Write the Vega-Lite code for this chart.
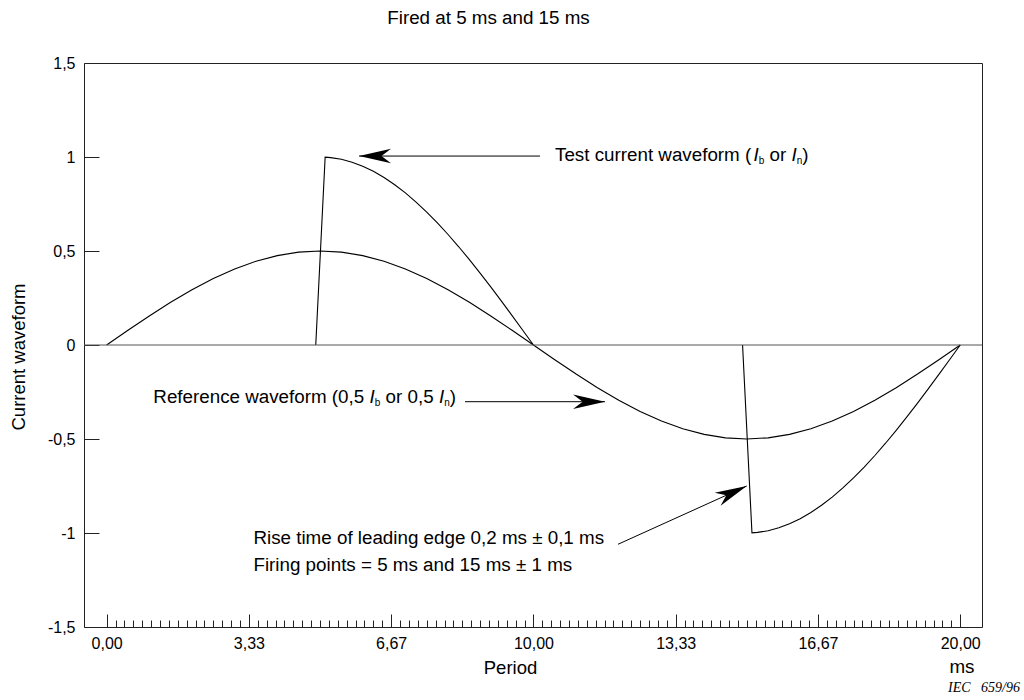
{
  "$schema": "https://vega.github.io/schema/vega-lite/v6.json",
  "width": 898,
  "height": 564,
  "autosize": {"type": "none"},
  "padding": {"left": 84, "top": 63, "right": 42, "bottom": 73},
  "background": "white",
  "title": {
    "text": "Fired at 5 ms and 15 ms",
    "anchor": "middle",
    "frame": "group",
    "dx": -44.5,
    "offset": 12,
    "baseline": "alphabetic",
    "font": "Liberation Sans",
    "fontSize": 18.8,
    "fontWeight": "normal",
    "color": "black"
  },
  "config": {
    "view": {"stroke": "#222", "strokeWidth": 1},
    "font": "Liberation Sans"
  },
  "resolve": {"axis": {"x": "independent"}},
  "datasets": {
    "reference": [
      {"t": 0, "v": 0}, {"t": 0.5, "v": 0.0782}, {"t": 1, "v": 0.1545}, {"t": 1.5, "v": 0.227}, {"t": 2, "v": 0.2939},
      {"t": 2.5, "v": 0.3536}, {"t": 3, "v": 0.4045}, {"t": 3.5, "v": 0.4455}, {"t": 4, "v": 0.4755}, {"t": 4.5, "v": 0.4938},
      {"t": 5, "v": 0.5}, {"t": 5.5, "v": 0.4938}, {"t": 6, "v": 0.4755}, {"t": 6.5, "v": 0.4455}, {"t": 7, "v": 0.4045},
      {"t": 7.5, "v": 0.3536}, {"t": 8, "v": 0.2939}, {"t": 8.5, "v": 0.227}, {"t": 9, "v": 0.1545}, {"t": 9.5, "v": 0.0782},
      {"t": 10, "v": 0}, {"t": 10.5, "v": -0.0782}, {"t": 11, "v": -0.1545}, {"t": 11.5, "v": -0.227}, {"t": 12, "v": -0.2939},
      {"t": 12.5, "v": -0.3536}, {"t": 13, "v": -0.4045}, {"t": 13.5, "v": -0.4455}, {"t": 14, "v": -0.4755}, {"t": 14.5, "v": -0.4938},
      {"t": 15, "v": -0.5}, {"t": 15.5, "v": -0.4938}, {"t": 16, "v": -0.4755}, {"t": 16.5, "v": -0.4455}, {"t": 17, "v": -0.4045},
      {"t": 17.5, "v": -0.3536}, {"t": 18, "v": -0.2939}, {"t": 18.5, "v": -0.227}, {"t": 19, "v": -0.1545}, {"t": 19.5, "v": -0.0782},
      {"t": 20, "v": 0}
    ],
    "test": [
      {"pulse": "positive", "t": 4.9, "v": 0}, {"pulse": "positive", "t": 5.12, "v": 0.999}, {"pulse": "positive", "t": 5.25, "v": 0.9969},
      {"pulse": "positive", "t": 5.5, "v": 0.9877}, {"pulse": "positive", "t": 5.75, "v": 0.9724}, {"pulse": "positive", "t": 6, "v": 0.9511},
      {"pulse": "positive", "t": 6.25, "v": 0.9239}, {"pulse": "positive", "t": 6.5, "v": 0.891}, {"pulse": "positive", "t": 6.75, "v": 0.8526},
      {"pulse": "positive", "t": 7, "v": 0.809}, {"pulse": "positive", "t": 7.25, "v": 0.7604}, {"pulse": "positive", "t": 7.5, "v": 0.7071},
      {"pulse": "positive", "t": 7.75, "v": 0.6495}, {"pulse": "positive", "t": 8, "v": 0.5878}, {"pulse": "positive", "t": 8.25, "v": 0.5225},
      {"pulse": "positive", "t": 8.5, "v": 0.454}, {"pulse": "positive", "t": 8.75, "v": 0.3827}, {"pulse": "positive", "t": 9, "v": 0.309},
      {"pulse": "positive", "t": 9.25, "v": 0.2335}, {"pulse": "positive", "t": 9.5, "v": 0.1564}, {"pulse": "positive", "t": 9.75, "v": 0.0785},
      {"pulse": "positive", "t": 10, "v": 0},
      {"pulse": "negative", "t": 14.9, "v": 0}, {"pulse": "negative", "t": 15.12, "v": -0.999}, {"pulse": "negative", "t": 15.25, "v": -0.9969},
      {"pulse": "negative", "t": 15.5, "v": -0.9877}, {"pulse": "negative", "t": 15.75, "v": -0.9724}, {"pulse": "negative", "t": 16, "v": -0.9511},
      {"pulse": "negative", "t": 16.25, "v": -0.9239}, {"pulse": "negative", "t": 16.5, "v": -0.891}, {"pulse": "negative", "t": 16.75, "v": -0.8526},
      {"pulse": "negative", "t": 17, "v": -0.809}, {"pulse": "negative", "t": 17.25, "v": -0.7604}, {"pulse": "negative", "t": 17.5, "v": -0.7071},
      {"pulse": "negative", "t": 17.75, "v": -0.6495}, {"pulse": "negative", "t": 18, "v": -0.5878}, {"pulse": "negative", "t": 18.25, "v": -0.5225},
      {"pulse": "negative", "t": 18.5, "v": -0.454}, {"pulse": "negative", "t": 18.75, "v": -0.3827}, {"pulse": "negative", "t": 19, "v": -0.309},
      {"pulse": "negative", "t": 19.25, "v": -0.2335}, {"pulse": "negative", "t": 19.5, "v": -0.1564}, {"pulse": "negative", "t": 19.75, "v": -0.0785},
      {"pulse": "negative", "t": 20, "v": 0}
    ],
    "arrows": [
      {"id": "test", "x": 10.155, "y": 1.005, "x2": 5.914, "y2": 1.005},
      {"id": "reference", "x": 8.397, "y": -0.3016, "x2": 11.678, "y2": -0.3016},
      {"id": "rise", "x": 11.982, "y": -1.06, "x2": 14.998, "y2": -0.75}
    ],
    "notes": [
      {"x": 10.506, "y": 0.979, "text": "Test current waveform ("},
      {"x": 15.532, "y": 0.979, "text": "or"},
      {"x": 16.3, "y": 0.979, "text": ")"},
      {"x": 1.094, "y": -0.3085, "text": "Reference waveform (0,5"},
      {"x": 6.537, "y": -0.3085, "text": "or 0,5"},
      {"x": 8.039, "y": -0.3085, "text": ")"},
      {"x": 3.44, "y": -1.0585, "text": "Rise time of leading edge 0,2 ms ± 0,1 ms"},
      {"x": 3.44, "y": -1.202, "text": "Firing points = 5 ms and 15 ms ± 1 ms"},
      {"x": 19.747, "y": -1.745, "text": "ms"}
    ],
    "italics": [
      {"x": 15.157, "y": 0.979, "text": "I"},
      {"x": 16.045, "y": 0.979, "text": "I"},
      {"x": 6.162, "y": -0.3085, "text": "I"},
      {"x": 7.786, "y": -0.3085, "text": "I"}
    ],
    "subscripts": [
      {"x": 15.279, "y": 0.965, "text": "b"},
      {"x": 16.169, "y": 0.965, "text": "n"},
      {"x": 6.284, "y": -0.322, "text": "b"},
      {"x": 7.908, "y": -0.322, "text": "n"}
    ]
  },
  "layer": [
    {
      "data": {"name": "reference"},
      "mark": {"type": "line", "color": "black", "strokeWidth": 1.1},
      "encoding": {
        "x": {
          "field": "t",
          "type": "quantitative",
          "scale": {"domain": [-0.53, 20.51], "nice": false, "zero": false},
          "axis": {
            "orient": "bottom",
            "title": "Period",
            "values": [0, 3.3333, 6.6667, 10, 13.3333, 16.6667, 20],
            "labelExpr": "replace(format(datum.value, '.2f'), '.', ',')",
            "labelOverlap": false,
            "labelFlush": false,
            "labelBound": false,
            "domain": false,
            "grid": false,
            "tickSize": -13,
            "tickColor": "#222",
            "tickWidth": 1,
            "labelFont": "Liberation Sans",
            "labelFontSize": 16,
            "labelColor": "black",
            "labelBaseline": "alphabetic",
            "labelPadding": 34,
            "titleFont": "Liberation Sans",
            "titleFontSize": 18.5,
            "titleFontWeight": "normal",
            "titleColor": "black",
            "titleX": 426,
            "titleY": 46,
            "titleAlign": "center",
            "titleBaseline": "alphabetic"
          }
        },
        "y": {
          "field": "v",
          "type": "quantitative",
          "scale": {"domain": [-1.5, 1.5], "nice": false, "zero": false},
          "axis": {
            "title": "Current waveform",
            "values": [-1.5, -1, -0.5, 0, 0.5, 1, 1.5],
            "labelExpr": "replace(toString(datum.value), '.', ',')",
            "labelOverlap": false,
            "labelFlush": false,
            "labelBound": false,
            "domain": false,
            "grid": false,
            "tickSize": -15,
            "tickColor": "#222",
            "tickWidth": 1,
            "labelFont": "Liberation Sans",
            "labelFontSize": 16,
            "labelColor": "black",
            "labelPadding": 24,
            "titleFont": "Liberation Sans",
            "titleFontSize": 18.5,
            "titleFontWeight": "normal",
            "titleColor": "black",
            "titleAngle": -90,
            "titleX": -66,
            "titleY": 293.5,
            "titleAlign": "center",
            "titleBaseline": "middle"
          }
        }
      }
    },
    {
      "data": {"name": "test"},
      "mark": {"type": "line", "color": "black", "strokeWidth": 1.1},
      "encoding": {
        "x": {
          "field": "t",
          "type": "quantitative",
          "axis": {
            "orient": "bottom",
            "title": null,
            "labels": false,
            "domain": false,
            "grid": false,
            "tickSize": -7,
            "tickColor": "#222",
            "tickWidth": 1,
            "values": [0.2083, 0.4167, 0.625, 0.8333, 1.0417, 1.25, 1.4583, 1.6667, 1.875, 2.0833, 2.2917, 2.5, 2.7083, 2.9167, 3.125, 3.5417, 3.75, 3.9583, 4.1667, 4.375, 4.5833, 4.7917, 5, 5.2083, 5.4167, 5.625, 5.8333, 6.0417, 6.25, 6.4583, 6.875, 7.0833, 7.2917, 7.5, 7.7083, 7.9167, 8.125, 8.3333, 8.5417, 8.75, 8.9583, 9.1667, 9.375, 9.5833, 9.7917, 10.2083, 10.4167, 10.625, 10.8333, 11.0417, 11.25, 11.4583, 11.6667, 11.875, 12.0833, 12.2917, 12.5, 12.7083, 12.9167, 13.125, 13.5417, 13.75, 13.9583, 14.1667, 14.375, 14.5833, 14.7917, 15, 15.2083, 15.4167, 15.625, 15.8333, 16.0417, 16.25, 16.4583, 16.875, 17.0833, 17.2917, 17.5, 17.7083, 17.9167, 18.125, 18.3333, 18.5417, 18.75, 18.9583, 19.1667, 19.375, 19.5833, 19.7917]
          }
        },
        "y": {"field": "v", "type": "quantitative"},
        "detail": {"field": "pulse"}
      }
    },
    {
      "data": {"values": [{}]},
      "mark": {"type": "rule", "color": "#555", "strokeWidth": 1},
      "encoding": {"y": {"datum": 0, "type": "quantitative"}}
    },
    {
      "data": {"name": "arrows"},
      "mark": {"type": "rule", "color": "black", "strokeWidth": 1},
      "encoding": {
        "x": {"field": "x", "type": "quantitative", "axis": null},
        "y": {"field": "y", "type": "quantitative"},
        "x2": {"field": "x2"},
        "y2": {"field": "y2"}
      }
    },
    {
      "data": {"name": "arrows"},
      "transform": [{"filter": "datum.id == 'test'"}],
      "mark": {"type": "point", "shape": "M0,0L-2,-0.45L-1.4,0L-2,0.45Z", "size": 1024, "filled": true, "color": "black", "opacity": 1, "strokeWidth": 0, "angle": 180},
      "encoding": {
        "x": {"field": "x2", "type": "quantitative", "axis": null},
        "y": {"field": "y2", "type": "quantitative"}
      }
    },
    {
      "data": {"name": "arrows"},
      "transform": [{"filter": "datum.id == 'reference'"}],
      "mark": {"type": "point", "shape": "M0,0L-2,-0.45L-1.4,0L-2,0.45Z", "size": 1024, "filled": true, "color": "black", "opacity": 1, "strokeWidth": 0, "angle": 0},
      "encoding": {
        "x": {"field": "x2", "type": "quantitative", "axis": null},
        "y": {"field": "y2", "type": "quantitative"}
      }
    },
    {
      "data": {"name": "arrows"},
      "transform": [{"filter": "datum.id == 'rise'"}],
      "mark": {"type": "point", "shape": "M0,0L-2,-0.45L-1.4,0L-2,0.45Z", "size": 1024, "filled": true, "color": "black", "opacity": 1, "strokeWidth": 0, "angle": -24.4},
      "encoding": {
        "x": {"field": "x2", "type": "quantitative", "axis": null},
        "y": {"field": "y2", "type": "quantitative"}
      }
    },
    {
      "data": {"name": "notes"},
      "mark": {"type": "text", "align": "left", "baseline": "alphabetic", "font": "Liberation Sans", "fontSize": 18.8, "color": "black"},
      "encoding": {
        "x": {"field": "x", "type": "quantitative", "axis": null},
        "y": {"field": "y", "type": "quantitative"},
        "text": {"field": "text"}
      }
    },
    {
      "data": {"name": "italics"},
      "mark": {"type": "text", "align": "left", "baseline": "alphabetic", "font": "Liberation Sans", "fontSize": 18.8, "fontStyle": "italic", "color": "black"},
      "encoding": {
        "x": {"field": "x", "type": "quantitative", "axis": null},
        "y": {"field": "y", "type": "quantitative"},
        "text": {"field": "text"}
      }
    },
    {
      "data": {"name": "subscripts"},
      "mark": {"type": "text", "align": "left", "baseline": "alphabetic", "font": "Liberation Sans", "fontSize": 10, "color": "black"},
      "encoding": {
        "x": {"field": "x", "type": "quantitative", "axis": null},
        "y": {"field": "y", "type": "quantitative"},
        "text": {"field": "text"}
      }
    },
    {
      "data": {"values": [{}]},
      "mark": {"type": "text", "align": "right", "baseline": "alphabetic", "font": "Liberation Serif", "fontSize": 14, "fontStyle": "italic", "color": "black", "text": "IEC\u00a0\u00a0\u00a0659/96"},
      "encoding": {
        "x": {"datum": 21.4, "type": "quantitative", "axis": null},
        "y": {"datum": -1.844, "type": "quantitative"}
      }
    }
  ]
}
